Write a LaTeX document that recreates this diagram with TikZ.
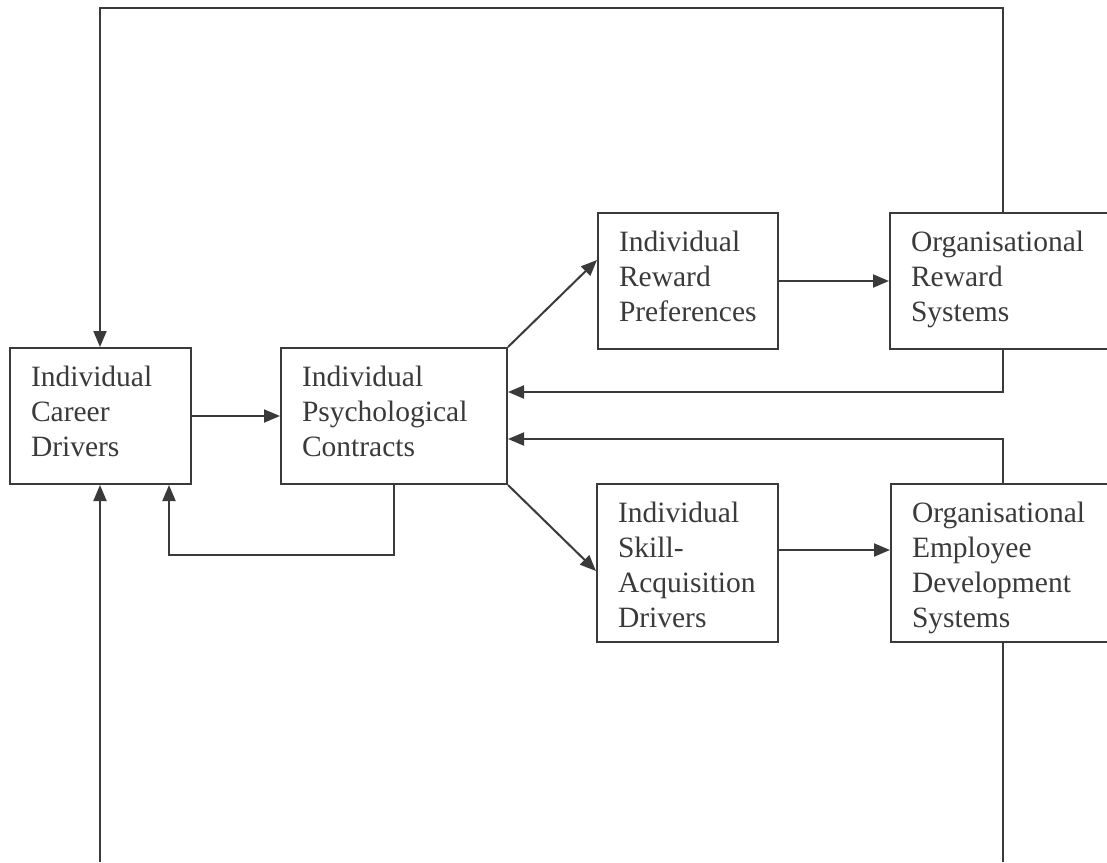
\documentclass[tikz,border=0pt]{standalone}
\usepackage{fontspec}
\setmainfont{Liberation Serif}
\usepackage{xcolor}
\usepackage{tikz}
\usetikzlibrary{arrows.meta}
\definecolor{ink}{HTML}{3A3A3C}
\newcommand{\cell}[3]{\parbox[c][#2][t]{#1}{\raggedright\leftskip=21pt\vspace*{13.5pt}\strut #3}}
\tikzset{
  box/.style={draw=ink, line width=2pt, inner sep=0pt, anchor=north west,
              text=ink, font=\fontsize{29.5}{35}\selectfont},
  arr/.style={-{Triangle[length=16pt,width=13pt]}},
}

\begin{document}
\begin{tikzpicture}[x=1pt,y=-1pt,line width=2pt,draw=ink]
            \clip (0,0) rectangle (1107,862);
            % Left boxes
            \node[box] (career) at (9,347) {\cell{181pt}{136pt}{Individual\\Career\\Drivers}};
            \node[box] (psych) at (280,347) {\cell{226pt}{136pt}{Individual\\Psychological\\Contracts}};
            % Individual boxes
            \node[box] (reward) at (597,212) {\cell{180pt}{136pt}{Individual\\Reward\\Preferences}};
            \node[box] (skill) at (596,483) {\cell{181pt}{158pt}{Individual\\Skill-\\Acquisition\\Drivers}};
            % Organisational boxes (cut at the right edge)
            \node[box] (orgrew) at (889,212) {\cell{240pt}{136pt}{Organisational\\Reward\\Systems}};
            \node[box] (orgdev) at (890,483) {\cell{240pt}{158pt}{Organisational\\Employee\\Development\\Systems}};
            \coordinate (topL) at (100,8);
            \coordinate (topR) at (1003,8);
            \coordinate (botL) at (100,862);
            \coordinate (botR) at (1003,862);
            % Forward arrows
            \draw[arr] (career) -- (psych);
            \draw[arr] (psych.north east) -- ([yshift=-48pt]reward.north west);
            \draw[arr] (psych.south east) -- ([yshift=-88pt]skill.north west);
            \draw[arr] (reward) -- (reward -| orgrew.west);
            \draw[arr] ([yshift=-67pt]skill.north east) -- ([yshift=-67pt]skill.north east -| orgdev.west);
            % Feedback arrows
            \draw[arr] (topR |- orgrew.south) |- ([yshift=-45pt]psych.north east);
            \draw[arr] (topR |- orgdev.north) |- ([yshift=46pt]psych.south east);
            \draw[arr] (psych.south) -- ++(0,70) -| ([xshift=-23pt]career.south east);
            \draw[arr] (topR |- orgrew.north) -- (topR) -- (topL) -- (topL |- career.north);
            \draw[arr] (botL) -- (botL |- career.south);
            \draw (botR |- orgdev.south) -- (botR);
        \end{tikzpicture}
\end{document}
